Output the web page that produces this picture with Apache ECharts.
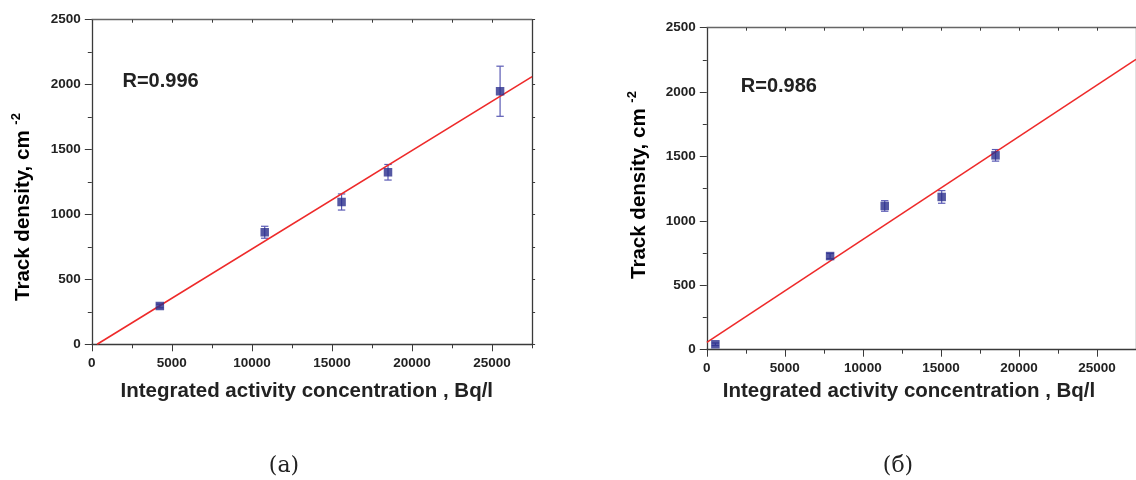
<!DOCTYPE html>
<html><head><meta charset="utf-8">
<script src="https://cdn.jsdelivr.net/npm/echarts@6/dist/echarts.min.js"></script>
<style>html,body{margin:0;padding:0;background:#fff}#c{width:1136px;height:480px}</style>
</head><body><div id="c"></div>
<script>
// ---- data ----
const xMax = 27500;
const yMax = 2500;
const xMajorTicks = [0, 5000, 10000, 15000, 20000, 25000];
// panel (a)
const aX = [4250, 10800, 15600, 18500, 25500];
const aY = [295, 863, 1096, 1325, 1949];
const aErr = [14, 46, 62, 60, 193];
const aFitX = [333, 27500];
const aFitY = [0, 2062];
const aR = 'R=0.996';
// panel (б)
const bX = [550, 7900, 11400, 15050, 18500];
const bY = [42, 727, 1116, 1186, 1509];
const bErr = [10, 20, 41, 49, 45];
const bFitX = [0, 27500];
const bFitY = [57, 2254];
const bR = 'R=0.986';
// texts
const xTitle = 'Integrated activity concentration , Bq/l';
const yTitle = 'Track density, cm ';
const ySup = '-2';
const captions = ['(a)', '(б)'];

// ---- styles ----
const FONT = '"Liberation Sans", Arial, sans-serif';
const AX = '#3a3a3a';
const TXT = '#222';
const MARK = '#2B2E8C';
const ERRC = '#5a5ab4';
const FIT = '#ee2a2a';
const plainNum = v => String(v);

const grids = [
  {left: 91.8, top: 19.7, width: 440.3, height: 324.6},
  {left: 706.8, top: 27.7, width: 436.8, height: 322}
];

const xAxes = [], yAxes = [];
grids.forEach((g, gi) => {
  xAxes.push({type: 'value', gridIndex: gi, position: 'bottom', min: 0, max: xMax, interval: 2500,
    axisLine: {show: true, onZero: false, lineStyle: {color: AX, width: 1.3}},
    axisTick: {show: true, length: 4, lineStyle: {color: AX, width: 1}},
    axisLabel: {show: true, customValues: xMajorTicks, formatter: plainNum, margin: 12, fontSize: 13.5, fontWeight: 'bold', color: TXT, fontFamily: FONT},
    splitLine: {show: false}});
  xAxes.push({type: 'value', gridIndex: gi, position: 'bottom', min: 0, max: xMax, interval: 2500,
    axisLine: {show: false, onZero: false},
    axisTick: {show: true, customValues: xMajorTicks, length: 7, lineStyle: {color: AX, width: 1}},
    axisLabel: {show: false}, splitLine: {show: false}});
  xAxes.push({type: 'value', gridIndex: gi, position: 'top', min: 0, max: xMax, interval: 2500,
    axisLine: {show: true, onZero: false, lineStyle: {color: '#666', width: 1.3}},
    axisTick: {show: true, inside: true, length: 3, lineStyle: {color: AX}},
    axisLabel: {show: false}, splitLine: {show: false}});
  yAxes.push({type: 'value', gridIndex: gi, position: 'left', min: 0, max: yMax, interval: 500,
    axisLine: {show: true, onZero: false, lineStyle: {color: AX, width: 1.3}},
    axisTick: {show: true, length: 7, lineStyle: {color: AX, width: 1}},
    minorTick: {show: true, splitNumber: 2, length: 4, lineStyle: {color: AX, width: 1}},
    axisLabel: {show: true, formatter: plainNum, margin: 11, fontSize: 13.5, fontWeight: 'bold', color: TXT, fontFamily: FONT},
    splitLine: {show: false}, minorSplitLine: {show: false}});
  yAxes.push({type: 'value', gridIndex: gi, position: 'right', min: 0, max: yMax, interval: 250,
    axisLine: {show: true, onZero: false, lineStyle: {color: AX, width: 1.3}},
    axisTick: {show: true, length: 3, lineStyle: {color: AX}},
    axisLabel: {show: false}, splitLine: {show: false}});
});

function errRender(params, api) {
  const x = api.value(0), lo = api.value(1), hi = api.value(2);
  const pLo = api.coord([x, lo]), pHi = api.coord([x, hi]);
  const w = 3.7;
  const st = {stroke: ERRC, lineWidth: 1.2};
  return {type: 'group', children: [
    {type: 'line', shape: {x1: pLo[0], y1: pLo[1], x2: pHi[0], y2: pHi[1]}, style: st},
    {type: 'line', shape: {x1: pLo[0] - w, y1: pLo[1], x2: pLo[0] + w, y2: pLo[1]}, style: st},
    {type: 'line', shape: {x1: pHi[0] - w, y1: pHi[1], x2: pHi[0] + w, y2: pHi[1]}, style: st}
  ]};
}

const panels = [
  {X: aX, Y: aY, E: aErr, FX: aFitX, FY: aFitY},
  {X: bX, Y: bY, E: bErr, FX: bFitX, FY: bFitY}
];
const series = [];
panels.forEach((p, gi) => {
  const xi = gi * 3, yi = gi * 2;
  series.push({type: 'custom', xAxisIndex: xi, yAxisIndex: yi, renderItem: errRender, z: 2,
    encode: {x: 0, y: [1, 2]},
    data: p.X.map((x, i) => [x, p.Y[i] - p.E[i], p.Y[i] + p.E[i]])});
  series.push({type: 'line', xAxisIndex: xi, yAxisIndex: yi, z: 3, symbol: 'none', clip: true,
    lineStyle: {color: FIT, width: 1.6}, data: p.FX.map((x, i) => [x, p.FY[i]])});
  series.push({type: 'scatter', xAxisIndex: xi, yAxisIndex: yi, z: 4, symbol: 'rect', symbolSize: 8.5,
    itemStyle: {color: MARK}, data: p.X.map((x, i) => [x, p.Y[i]])});
});

const rich = {
  m: {fontSize: 20.5, fontWeight: 'bold', fontFamily: FONT, color: TXT, lineHeight: 26},
  s: {fontSize: 13, fontWeight: 'bold', fontFamily: FONT, color: TXT, verticalAlign: 'top', lineHeight: 26}
};
function yTitleText(x, y) {
  return {type: 'text', x: x, y: y, rotation: Math.PI / 2,
    style: {text: '{m|' + yTitle + '}{s|' + ySup + '}', rich: rich, align: 'center', verticalAlign: 'middle'}};
}
function plain(x, y, text, size, align, family, weight) {
  return {type: 'text', x: x, y: y,
    style: {text: text, fontSize: size, fontWeight: weight || 'bold', fontFamily: family || FONT, fill: TXT, align: align || 'center', verticalAlign: 'middle'}};
}

const chart = echarts.init(document.getElementById('c'), null, {renderer: 'canvas'});
chart.setOption({
  animation: false,
  backgroundColor: '#fff',
  grid: grids.map(g => Object.assign({containLabel: false}, g)),
  xAxis: xAxes,
  yAxis: yAxes,
  series: series,
  graphic: [
    plain(122.5, 81, aR, 20, 'left'),
    plain(740.8, 86.5, bR, 20, 'left'),
    plain(306.8, 391.5, xTitle, 20.5),
    plain(909, 391.5, xTitle, 20.5),
    yTitleText(23, 207),
    yTitleText(639, 185),
    plain(284, 466, captions[0], 22, 'center', '"DejaVu Serif", serif', 'normal'),
    plain(898, 466, captions[1], 22, 'center', '"DejaVu Serif", serif', 'normal')
  ]
});
</script></body></html>
